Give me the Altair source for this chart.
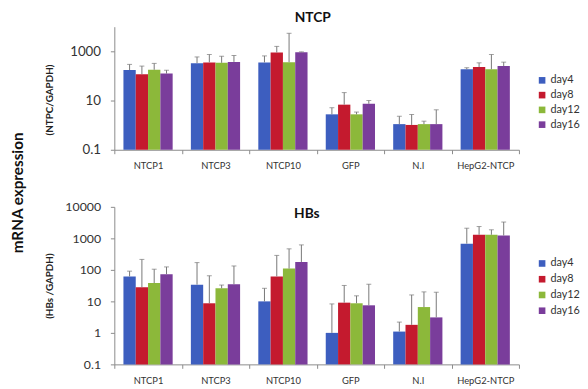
import altair as alt
import pandas as pd

categories = ["NTCP1", "NTCP3", "NTCP10", "GFP", "N.I", "HepG2-NTCP"]
days = ["day4", "day8", "day12", "day16"]
colors = ["#3d5ebf", "#c41a2e", "#8cb83a", "#7a3d9b"]

# NTCP panel: bar value and top of error bar
ntcp_day4 = [174, 331, 355, 2.75, 1.1, 186]
ntcp_day8 = [117, 355, 890, 6.8, 1.02, 229]
ntcp_day12 = [178, 340, 363, 2.75, 1.1, 186]
ntcp_day16 = [124, 372, 912, 7.4, 1.1, 251]
ntcp_err4 = [294, 590, 650, 5.1, 2.3, 215]
ntcp_err8 = [251, 740, 1585, 21, 2.7, 340]
ntcp_err12 = [323, 630, 5400, 3.4, 1.45, 740]
ntcp_err16 = [170, 675, 950, 10, 4.2, 363]

# HBs panel
hbs_day4 = [62, 34, 10, 1.0, 1.1, 680]
hbs_day8 = [28, 8.7, 62, 9.1, 1.8, 1300]
hbs_day12 = [38, 26, 110, 8.7, 6.6, 1300]
hbs_day16 = [73, 35, 178, 7.5, 3.1, 1230]
hbs_err4 = [91, 170, 26, 8.3, 2.2, 2100]
hbs_err8 = [215, 65, 288, 32, 16, 2370]
hbs_err12 = [105, 33, 465, 15, 20, 1870]
hbs_err16 = [124, 133, 620, 35, 19.5, 3300]

ntcp_ticks = [0.1, 10, 1000]
hbs_ticks = [0.1, 1, 10, 100, 1000, 10000]


def frame(vals, errs):
    rows = []
    for d, v, e in zip(days, vals, errs):
        for c, vv, ee in zip(categories, v, e):
            rows.append({"cat": c, "day": d, "val": vv, "err": ee, "base": 0.1})
    return pd.DataFrame(rows)


ntcp_df = frame([ntcp_day4, ntcp_day8, ntcp_day12, ntcp_day16],
                [ntcp_err4, ntcp_err8, ntcp_err12, ntcp_err16])
hbs_df = frame([hbs_day4, hbs_day8, hbs_day12, hbs_day16],
               [hbs_err4, hbs_err8, hbs_err12, hbs_err16])

AX = "#8a8a8a"
LAB = "#333333"


def panel(df, ticks, height, ytitle, title_y, title, legend_y, row_pad, label_size):
    x = alt.X("cat:N", sort=categories,
              scale=alt.Scale(paddingInner=0, paddingOuter=0),
              axis=alt.Axis(title=None, tickBand="extent", labelAngle=0,
                            labelFontSize=9.5, labelPadding=7, tickSize=4,
                            domainColor=AX, tickColor=AX, labelColor=LAB))
    xo = alt.XOffset("day:N", sort=days,
                     scale=alt.Scale(paddingInner=0, paddingOuter=0.74))
    yscale = alt.Scale(type="log", domain=[0.1, 10000], nice=False, clamp=True)
    y = alt.Y("val:Q", scale=yscale,
              axis=alt.Axis(values=ticks, format="~g", title=ytitle,
                            titleFontSize=10, titleFontWeight="bold",
                            titleX=-66, titleY=title_y, titleBaseline="middle",
                            titleColor="#222", labelFontSize=label_size,
                            labelColor=LAB, labelPadding=10, tickSize=4,
                            domainColor=AX, tickColor=AX, grid=False))
    bars = alt.Chart(df).mark_bar().encode(
        x=x, xOffset=xo, y=y, y2="base:Q",
        color=alt.Color("day:N", sort=days,
                        scale=alt.Scale(domain=days, range=colors),
                        legend=alt.Legend(title=None, orient="none",
                                          legendX=429, legendY=legend_y,
                                          symbolType="square", symbolSize=45,
                                          symbolStrokeWidth=0,
                                          labelFontSize=11, labelColor=LAB,
                                          rowPadding=row_pad, padding=0,
                                          labelOffset=3)),
    )
    rules = alt.Chart(df).mark_rule(color="#777", strokeWidth=1).encode(
        x=x, xOffset=xo, y=alt.Y("val:Q", scale=yscale), y2="err:Q")
    caps = alt.Chart(df).mark_tick(color="#777", thickness=1, size=5,
                                   orient="horizontal").encode(
        x=x, xOffset=xo, y=alt.Y("err:Q", scale=yscale))
    return alt.layer(bars, rules, caps).properties(
        width=411, height=height, title=title)


top = panel(ntcp_df, ntcp_ticks, 125, "(NTPC/GAPDH)", 74,
            alt.TitleParams("NTCP", fontSize=14, fontWeight="bold",
                            anchor="middle", dx=-4, offset=2, color="#111"),
            49, 3, 13.5)
bottom = panel(hbs_df, hbs_ticks, 160, "(HBs /GAPDH)", 80,
               alt.TitleParams("HBs", fontSize=14, fontWeight="bold",
                               anchor="middle", dx=-10, offset=-20, color="#111"),
               52, 4, 12.5)

chart = alt.vconcat(top, bottom, spacing=31).resolve_legend(
    color="independent"
).properties(
    title=alt.TitleParams("mRNA expression", orient="left", anchor="middle",
                          fontSize=15.5, fontWeight="bold", offset=18,
                          dx=5, color="#111")
).configure(
    padding={"left": 3, "top": 0, "right": 0, "bottom": 0}, font="Lato"
).configure_view(stroke=None)

chart.save("out.html", embed_options={"renderer": "svg", "actions": False})
